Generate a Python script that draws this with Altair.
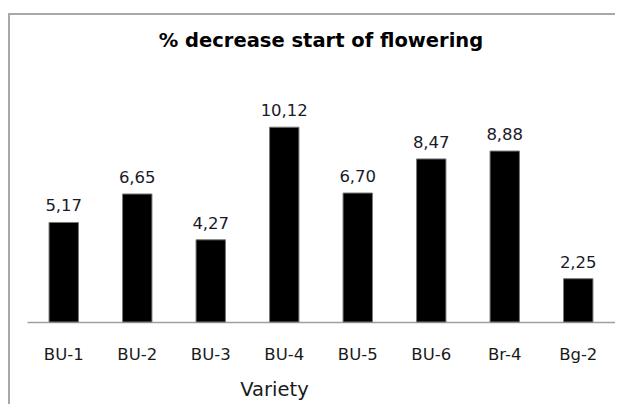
import altair as alt
import pandas as pd

varieties = ["BU-1", "BU-2", "BU-3", "BU-4", "BU-5", "BU-6", "Br-4", "Bg-2"]
values = [5.17, 6.65, 4.27, 10.12, 6.70, 8.47, 8.88, 2.25]
labels = [f"{v:.2f}".replace(".", ",") for v in values]
chart_title = ["% decrease start of flowering"]

df = pd.DataFrame({"Variety": varieties, "value": values, "label": labels})
tdf = pd.DataFrame({"t": chart_title})

x_enc = alt.X(
    "Variety:N",
    sort=varieties,
    scale=alt.Scale(paddingInner=0.6, paddingOuter=0.3),
    axis=alt.Axis(
        title="Variety",
        labelAngle=0,
        ticks=False,
        tickSize=0,
        domainColor="#a0a0a0",
        domainWidth=1.3,
        labelFont="DejaVu Sans",
        labelFontSize=16.5,
        labelColor="#1a1a1a",
        labelBaseline="alphabetic",
        labelPadding=37,
        titleFont="DejaVu Sans",
        titleFontSize=19.5,
        titleFontWeight="normal",
        titleColor="#1a1a1a",
        titleBaseline="alphabetic",
        titleAlign="center",
        titleAnchor="start",
        titleX=247,
        titleY=73,
    ),
)
y_enc = alt.Y("value:Q", scale=alt.Scale(domain=[0, 12]), axis=None)

bars = alt.Chart(df).mark_bar(color="black", stroke="#777777", strokeWidth=1).encode(
    x=x_enc, y=y_enc
)
text = alt.Chart(df).mark_text(
    baseline="alphabetic", dy=-11, font="DejaVu Sans", fontSize=16.5, color="#1a1a2a"
).encode(x=alt.X("Variety:N", sort=varieties), y="value:Q", text="label:N")

frame_top = alt.Chart(tdf).mark_rule(stroke="#a8a8a8", strokeWidth=2).encode(
    x=alt.value(-19), x2=alt.value(600), y=alt.value(-77)
)
frame_left = alt.Chart(tdf).mark_rule(stroke="#a8a8a8", strokeWidth=2).encode(
    x=alt.value(-18), y=alt.value(-78), y2=alt.value(330)
)

title = alt.Chart(tdf).mark_text(
    font="DejaVu Sans", fontSize=19.5, fontWeight="bold", color="black",
    align="center", baseline="alphabetic",
).encode(x=alt.value(294), y=alt.value(-44), text="t:N")

chart = (
    alt.layer(frame_top, frame_left, bars, text, title)
    .properties(
        width=588,
        height=231,
        padding={"left": 19, "top": 83, "right": 0, "bottom": 82},
        autosize=alt.AutoSizeParams(type="none"),
    )
    .configure_view(stroke=None)
)

chart.save("out.html", embed_options={"renderer": "svg", "actions": False})
